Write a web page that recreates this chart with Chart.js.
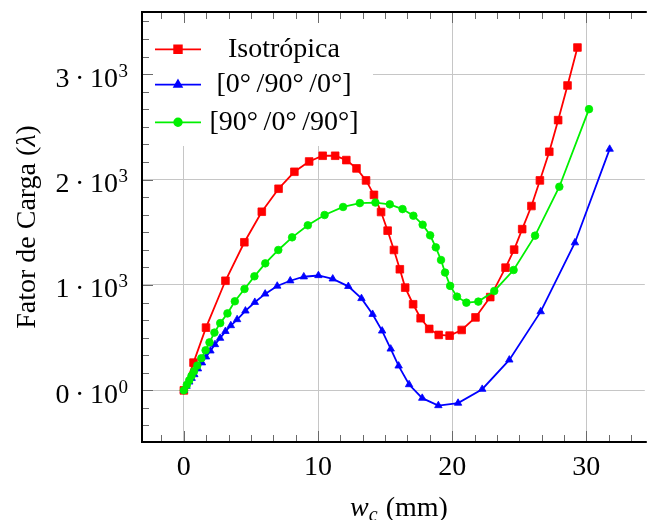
<!DOCTYPE html>
<html lang="pt">
<head>
<meta charset="utf-8">
<title>Fator de Carga x w_c</title>
<script src="https://cdn.jsdelivr.net/npm/chart.js@4/dist/chart.umd.min.js"></script>
<style>
  html, body { margin: 0; padding: 0; background: #fff; overflow: hidden; }
  #wrap { width: 651px; height: 520px; }
</style>
</head>
<body>
<div id="wrap"><canvas id="grafico" width="651" height="520"></canvas></div>
<script>
// Deslocamento central w_c (mm) e fator de carga para cada laminado
const wcIso = [0, 0.72, 1.65, 3.1, 4.51, 5.81, 7.06, 8.24, 9.34, 10.35, 11.28, 12.11, 12.87, 13.58, 14.17, 14.7, 15.19, 15.66, 16.1, 16.5, 17.09, 17.65, 18.29, 19.0, 19.81, 20.71, 21.74, 22.84, 23.98, 24.62, 25.22, 25.91, 26.54, 27.24, 27.9, 28.6, 29.34];
const lambdaIso = [0, 263, 595, 1040, 1405, 1695, 1913, 2074, 2172, 2226, 2226, 2185, 2106, 1992, 1855, 1692, 1515, 1332, 1149, 975, 817, 684, 583, 526, 519, 573, 692, 885, 1164, 1335, 1530, 1749, 1992, 2264, 2564, 2893, 3253];

const wcCross = [0, 0.2, 0.4, 0.58, 0.78, 1.05, 1.35, 1.65, 1.98, 2.32, 2.7, 3.1, 3.5, 3.97, 4.59, 5.29, 6.06, 6.96, 7.93, 8.94, 10.03, 11.1, 12.26, 13.24, 14.07, 14.78, 15.42, 16.01, 16.79, 17.77, 18.97, 20.44, 22.24, 24.26, 26.6, 29.15, 31.74];
const lambdaCross = [0, 40, 80, 115, 150, 205, 262, 318, 375, 435, 495, 560, 615, 672, 754, 836, 915, 990, 1040, 1078, 1090, 1058, 987, 872, 722, 564, 393, 232, 55, -74, -144, -121, 11, 289, 747, 1401, 2289];

const wcTrans = [0, 0.22, 0.4, 0.57, 0.76, 1.0, 1.3, 1.62, 1.91, 2.28, 2.71, 3.25, 3.8, 4.52, 5.26, 6.07, 7.04, 8.07, 9.24, 10.49, 11.87, 13.12, 14.28, 15.35, 16.3, 17.11, 17.8, 18.36, 18.78, 19.17, 19.47, 19.85, 20.36, 21.06, 21.95, 23.14, 24.58, 26.18, 27.99, 30.2];
const lambdaTrans = [0, 52, 95, 138, 182, 235, 305, 380, 455, 548, 638, 730, 845, 962, 1082, 1205, 1332, 1452, 1566, 1664, 1740, 1777, 1782, 1765, 1720, 1657, 1572, 1471, 1357, 1237, 1118, 991, 889, 832, 842, 943, 1142, 1468, 1932, 2668];

const seriesNames = ['Isotrópica', '[0°\u2009/90°\u2009/0°]', '[90°\u2009/0°\u2009/90°]'];

// Marcas principais dos eixos e seus rótulos (mantissa · 10^expoente)
const xTickValues = [0, 10, 20, 30];
const xTickLabels = ['0', '10', '20', '30'];
const yTickValues = [0, 1000, 2000, 3000];
const yTickMant = ['0', '1', '2', '3'];
const yTickExp = ['0', '3', '3', '3'];

const xTitle = { w: 'w', sub: 'c', rest: ' (mm)' };
const yTitle = { before: 'Fator de Carga (', sym: 'λ', after: ')' };

const SERIF = '"Liberation Serif", "Times New Roman", serif';
const MINOR_DIV = 6;           // 5 marcas secundárias entre as principais
const GRID_COLOR = '#c6c6c6';
const TICK_COLOR = '#6a6a6a';

function pts(xs, ys) { return xs.map((x, i) => ({ x: x, y: ys[i] })); }

// Eixo no estilo pgfplots: marcas internas, rótulos com expoente, legenda
const pgfAxis = {
  id: 'pgfAxis',
  afterDatasetsDraw(chart) {
    const ctx = chart.ctx;
    ctx.save();
    // fundo da legenda
    ctx.fillStyle = '#ffffff';
    ctx.fillRect(144, 14, 229, 132);
    const rows = [49.3, 84.7, 122.3];
    chart.data.datasets.forEach((ds, i) => {
      const y = rows[i];
      ctx.strokeStyle = ds.borderColor;
      ctx.lineWidth = ds.borderWidth;
      ctx.beginPath();
      ctx.moveTo(155, y);
      ctx.lineTo(201, y);
      ctx.stroke();
      ctx.fillStyle = ds.pointBackgroundColor;
      ctx.strokeStyle = ds.pointBorderColor;
      Chart.helpers.drawPoint(ctx, {
        pointStyle: ds.pointStyle, radius: ds.pointRadius,
        rotation: 0, borderWidth: ds.pointBorderWidth
      }, 178, y);
      ctx.fillStyle = '#000';
      ctx.font = '28px ' + SERIF;
      ctx.textAlign = 'center';
      ctx.textBaseline = 'alphabetic';
      ctx.fillText(ds.label, 284, y + 7.5);
    });
    ctx.restore();
  },
  afterDraw(chart) {
    const ctx = chart.ctx;
    const { left, top, right, bottom } = chart.chartArea;
    const xs = chart.scales.x, ys = chart.scales.y;
    ctx.save();

    // marcas internas (principais e secundárias)
    ctx.strokeStyle = TICK_COLOR;
    ctx.lineWidth = 1;
    const xStep = 10 / MINOR_DIV;
    for (let k = Math.ceil(xs.min / xStep); k * xStep <= xs.max + 1e-9; k++) {
      const px = Math.round(xs.getPixelForValue(k * xStep)) + 0.5;
      const len = (k % MINOR_DIV === 0) ? 11 : 7;
      ctx.beginPath();
      ctx.moveTo(px, bottom); ctx.lineTo(px, bottom - len);
      ctx.moveTo(px, top); ctx.lineTo(px, top + len);
      ctx.stroke();
    }
    const yStep = 1000 / MINOR_DIV;
    for (let k = Math.ceil(ys.min / yStep); k * yStep <= ys.max + 1e-9; k++) {
      const py = Math.round(ys.getPixelForValue(k * yStep)) + 0.5;
      const len = (k % MINOR_DIV === 0) ? 11 : 7;
      ctx.beginPath();
      ctx.moveTo(left, py); ctx.lineTo(left + len, py);
      ctx.stroke();
    }

    // contorno
    ctx.strokeStyle = '#000';
    ctx.lineWidth = 2;
    ctx.beginPath();
    ctx.moveTo(right + 2, top); ctx.lineTo(left, top);
    ctx.lineTo(left, bottom); ctx.lineTo(right + 2, bottom);
    ctx.stroke();

    // rótulos do eixo x
    ctx.fillStyle = '#000';
    ctx.font = '28px ' + SERIF;
    ctx.textAlign = 'center';
    ctx.textBaseline = 'alphabetic';
    xTickValues.forEach((v, i) => {
      ctx.fillText(xTickLabels[i], xs.getPixelForValue(v), 474.5);
    });

    // rótulos do eixo y: m · 10^e
    const rx = 128;
    yTickValues.forEach((v, i) => {
      const py = ys.getPixelForValue(v);
      ctx.textAlign = 'right';
      ctx.font = '19px ' + SERIF;
      ctx.fillText(yTickExp[i], rx, py + 2.5);
      const ew = ctx.measureText(yTickExp[i]).width;
      ctx.font = '28px ' + SERIF;
      ctx.fillText(yTickMant[i] + '\u2009·\u2009' + '10', rx - ew - 0.5, py + 12.5);
    });

    // título do eixo x
    ctx.textAlign = 'left';
    ctx.font = 'italic 28px ' + SERIF;
    const wW = ctx.measureText(xTitle.w).width;
    ctx.font = 'italic 20px ' + SERIF;
    const cW = ctx.measureText(xTitle.sub).width;
    ctx.font = '28px ' + SERIF;
    const rW = ctx.measureText(xTitle.rest).width;
    let tx = 399 - (wW + cW + 1 + rW) / 2;
    const ty = 516;
    ctx.font = 'italic 28px ' + SERIF;
    ctx.fillText(xTitle.w, tx, ty);
    tx += wW;
    ctx.font = 'italic 20px ' + SERIF;
    ctx.fillText(xTitle.sub, tx, ty + 5);
    tx += cW + 1;
    ctx.font = '28px ' + SERIF;
    ctx.fillText(xTitle.rest, tx, ty);

    // título do eixo y (vertical)
    ctx.translate(35, (top + bottom) / 2);
    ctx.rotate(-Math.PI / 2);
    ctx.font = '28px ' + SERIF;
    const bW = ctx.measureText(yTitle.before).width;
    const aW = ctx.measureText(yTitle.after).width;
    ctx.font = 'italic 28px ' + SERIF;
    const sW = ctx.measureText(yTitle.sym).width;
    let sx = -(bW + sW + aW) / 2;
    ctx.font = '28px ' + SERIF;
    ctx.fillText(yTitle.before, sx, 0);
    sx += bW;
    ctx.font = 'italic 28px ' + SERIF;
    ctx.fillText(yTitle.sym, sx, 0);
    sx += sW;
    ctx.font = '28px ' + SERIF;
    ctx.fillText(yTitle.after, sx, 0);

    ctx.restore();
  }
};

function serie(label, xs, ys, color, style, radius, order) {
  return {
    label: label,
    data: pts(xs, ys),
    borderColor: color,
    backgroundColor: color,
    pointBackgroundColor: color,
    pointBorderColor: color,
    pointBorderWidth: 0.8,
    borderWidth: 1.8,
    pointStyle: style,
    pointRadius: radius,
    pointHoverRadius: radius,
    tension: 0,
    fill: false,
    order: order
  };
}

new Chart(document.getElementById('grafico'), {
  type: 'line',
  data: {
    datasets: [
      serie(seriesNames[0], wcIso, lambdaIso, '#ff0000', 'rect', 5.4, 3),
      serie(seriesNames[1], wcCross, lambdaCross, '#0000ff', 'triangle', 4.3, 2),
      serie(seriesNames[2], wcTrans, lambdaTrans, '#00f000', 'circle', 3.8, 1)
    ]
  },
  options: {
    responsive: false,
    animation: false,
    devicePixelRatio: 1,
    layout: { padding: { left: 142, top: 12, right: 0, bottom: 78 } },
    plugins: { legend: { display: false }, tooltip: { enabled: false } },
    scales: {
      x: {
        type: 'linear',
        min: -3.12, max: 34.36,
        afterBuildTicks: (s) => { s.ticks = xTickValues.map(v => ({ value: v })); },
        ticks: { display: false },
        grid: { color: GRID_COLOR, lineWidth: 1, drawTicks: false },
        border: { display: false }
      },
      y: {
        type: 'linear',
        min: -490, max: 3590,
        afterBuildTicks: (s) => { s.ticks = yTickValues.map(v => ({ value: v })); },
        ticks: { display: false },
        grid: { color: GRID_COLOR, lineWidth: 1, drawTicks: false },
        border: { display: false }
      }
    }
  },
  plugins: [pgfAxis]
});
</script>
</body>
</html>
